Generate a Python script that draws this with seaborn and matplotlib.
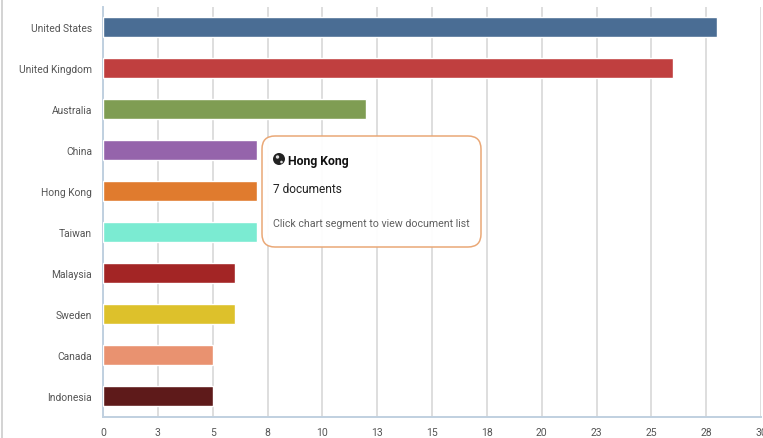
import numpy as np
import pandas as pd
import matplotlib
matplotlib.use('Agg')
import matplotlib.pyplot as plt
from matplotlib.patches import Circle, FancyBboxPatch, Rectangle
import seaborn as sns

countries = ['United States', 'United Kingdom', 'Australia', 'China', 'Hong Kong',
             'Taiwan', 'Malaysia', 'Sweden', 'Canada', 'Indonesia']
documents = [28, 26, 12, 7, 7, 7, 6, 6, 5, 5]
bar_colors = ['#4A6D94', '#C03F3F', '#7F9D53', '#9564AB', '#E07B2E',
              '#7BEBD2', '#A32525', '#DDC12B', '#E99270', '#5E1A1A']
x_ticks = [0, 2.5, 5, 7.5, 10, 12.5, 15, 17.5, 20, 22.5, 25, 27.5, 30]
x_labels = ['0', '3', '5', '8', '10', '13', '15', '18', '20', '23', '25', '28', '30']

W, H = 763, 439
sns.set_theme(style='white')
plt.rcParams['font.family'] = ['Roboto', 'DejaVu Sans']

df = pd.DataFrame({'country': countries, 'documents': documents})

fig = plt.figure(figsize=(W / 100, H / 100), dpi=100)
ax = fig.add_axes([103 / W, 1 - 417.6 / H, 658 / W, 410 / H])
sns.barplot(data=df, x='documents', y='country', hue='country', palette=bar_colors,
            dodge=False, legend=False, width=0.5, saturation=1, ax=ax, zorder=3)

ax.set_xlim(0, 30)
ax.set_xticks(x_ticks, x_labels)
ax.set_yticks(np.arange(len(countries) + 1) - 0.5, minor=True)
ax.set_xlabel('')
ax.set_ylabel('')
ax.grid(axis='x', color='#DEDEDE', lw=1.4, zorder=0)
ax.set_axisbelow(True)
for s in ['top', 'right']:
    ax.spines[s].set_visible(False)
for s in ['left', 'bottom']:
    ax.spines[s].set_color('#C0D0E0')
    ax.spines[s].set_linewidth(1.4)
ax.tick_params(axis='x', length=0, pad=7.5, labelsize=7.5, labelcolor='#555555')
ax.tick_params(axis='y', which='major', length=0, pad=8, labelsize=7.4, labelcolor='#555555')
ax.tick_params(axis='y', which='minor', length=5.5, width=1.2, color='#C0D0E0')

# overlay in pixel coordinates for tooltip and page border
over = fig.add_axes([0, 0, 1, 1], facecolor='none')
over.set_xlim(0, W)
over.set_ylim(H, 0)
over.axis('off')
over.add_patch(Rectangle((1, 0), 1.5, H, color='#D4D4D4', lw=0))
over.add_patch(FancyBboxPatch((272, 147), 199, 91, boxstyle='round,pad=10,rounding_size=13',
                              fc='white', ec='#E9A470', lw=1.1, alpha=0.95))
over.add_patch(Circle((279, 160), 6, fc='#222222', ec='none'))
over.add_patch(Circle((277.5, 158), 1.7, fc='#DDDDDD', ec='none'))
over.add_patch(Circle((281.5, 163), 1.3, fc='#DDDDDD', ec='none'))
over.text(288, 162, 'Hong Kong', fontsize=8.8, fontweight='bold', color='#111111', va='center')
over.text(273, 190, '7 documents', fontsize=8.6, color='#222222', va='center')
over.text(273, 224, 'Click chart segment to view document list', fontsize=7.7, color='#606060', va='center')

fig.savefig('out.png', dpi=100)
